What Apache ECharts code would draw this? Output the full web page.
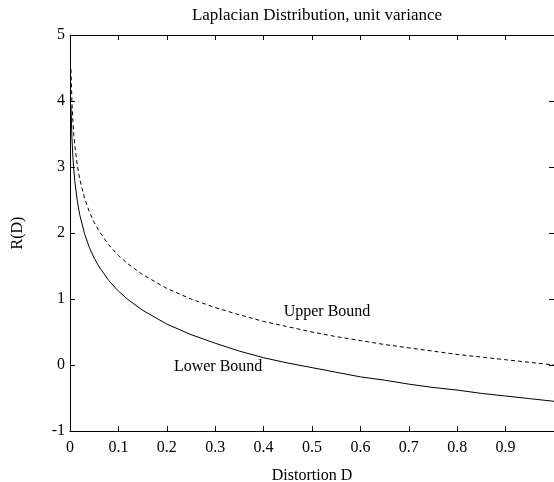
<!DOCTYPE html>
<html><head><meta charset="utf-8">
<script src="https://cdn.jsdelivr.net/npm/echarts@6/dist/echarts.min.js"></script>
<style>html,body{margin:0;padding:0;background:#fff}#c{width:554px;height:482px}</style>
</head><body><div id="c"></div>
<script>
const distortion = [0.002,0.004,0.006,0.008,0.01,0.015,0.02,0.03,0.04,0.05,0.06,0.08,0.1,0.12,0.15,0.2,0.25,0.3,0.35,0.4,0.45,0.5,0.55,0.6,0.65,0.7,0.75,0.8,0.85,0.9,0.95,1.0];
const upperBound = [4.48,3.98,3.69,3.48,3.32,3.03,2.82,2.53,2.32,2.16,2.03,1.82,1.66,1.53,1.37,1.16,1.00,0.87,0.76,0.66,0.58,0.50,0.43,0.37,0.31,0.26,0.21,0.16,0.12,0.08,0.04,0.00];
const lowerBound = [3.94,3.44,3.15,2.94,2.78,2.49,2.28,1.99,1.78,1.62,1.49,1.28,1.12,0.99,0.83,0.62,0.46,0.33,0.21,0.11,0.03,-0.04,-0.11,-0.18,-0.23,-0.29,-0.34,-0.38,-0.43,-0.47,-0.51,-0.55];
const xTicks = ['0','0.1','0.2','0.3','0.4','0.5','0.6','0.7','0.8','0.9'];
const yTicks = ['-1','0','1','2','3','4','5'];
const labels = [{text:'Upper Bound', at:[0.531,0.80]},{text:'Lower Bound', at:[0.306,-0.03]}];

const font = 'Liberation Serif';
const fs = 16;
const chart = echarts.init(document.getElementById('c'));
const pair = (xs, ys) => xs.map((x,i)=>[x, ys[i]]);
const tickStyle = {show:true, inside:true, length:5, lineStyle:{color:'#000', width:1}};
const lineStyleAx = {show:true, onZero:false, lineStyle:{color:'#000', width:1}};
chart.setOption({
  animation:false,
  backgroundColor:'#fff',
  title:{text:'Laplacian Distribution, unit variance', left:312, textAlign:'center', top:2,
    textStyle:{fontFamily:font, fontSize:17, fontWeight:'normal', color:'#000'}},
  grid:{left:70, right:0, top:35, bottom:51, containLabel:false, outerBoundsMode:'none'},
  xAxis:[{
    type:'value', min:0, max:1, interval:0.1, position:'bottom',
    name:'Distortion D', nameLocation:'middle', nameGap:37,
    nameTextStyle:{fontFamily:font, fontSize:fs, color:'#000'},
    axisLine:lineStyleAx, axisTick:tickStyle, splitLine:{show:false},
    axisLabel:{fontFamily:font, fontSize:fs, color:'#000', margin:9,
      formatter:(v)=>{const i=Math.round(v*10); return i<xTicks.length?xTicks[i]:'';}}
  },{
    type:'value', min:0, max:1, interval:0.1, position:'top',
    axisLine:lineStyleAx, axisTick:tickStyle, axisLabel:{show:false}, splitLine:{show:false}
  }],
  yAxis:[{
    type:'value', min:-1, max:5, interval:1, position:'left',
    name:'R(D)', nameLocation:'middle', nameGap:44, nameRotate:90,
    nameTextStyle:{fontFamily:font, fontSize:fs, color:'#000'},
    axisLine:lineStyleAx, axisTick:tickStyle, splitLine:{show:false},
    axisLabel:{fontFamily:font, fontSize:fs, color:'#000', margin:5,
      formatter:(v)=>yTicks[Math.round(v)+1]}
  },{
    type:'value', min:-1, max:5, interval:1, position:'right',
    axisLine:{show:false, onZero:false}, axisTick:tickStyle, axisLabel:{show:false}, splitLine:{show:false}
  }],
  series:[{
    type:'line', name:'Upper Bound', data:pair(distortion, upperBound), smooth:false, symbol:'none',
    lineStyle:{color:'#000', width:1, type:[4,3]}
  },{
    type:'line', name:'Lower Bound', data:pair(distortion, lowerBound), smooth:false, symbol:'none',
    lineStyle:{color:'#000', width:1}
  }]
});
chart.setOption({
  graphic: labels.map(l => {
    const p = chart.convertToPixel({xAxisIndex:0, yAxisIndex:0}, l.at);
    return {type:'text', x:p[0], y:p[1], silent:true,
      style:{text:l.text, fill:'#000', font:fs+'px "'+font+'"', textAlign:'center', textVerticalAlign:'middle'}};
  })
});
</script></body></html>
